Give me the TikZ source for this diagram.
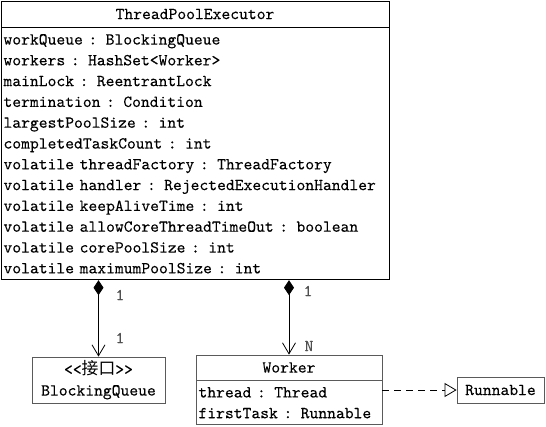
\documentclass[tikz,border=0pt]{standalone}
\usepackage{fontspec}
\newfontfamily\umlfont[FakeBold=0.12]{lmmono10-regular.otf}
\newfontfamily\cjk{Noto Sans CJK SC}
\usepackage{tikz}
\usetikzlibrary{positioning}
\usetikzlibrary{arrows.meta}
\definecolor{umlgray}{RGB}{90,90,90}
\definecolor{lblgray}{RGB}{80,80,80}
\begin{document}
\begin{tikzpicture}[x=1pt,y=-1pt]
\tikzstyle{uml}=[rectangle,draw,line width=0.8pt,inner sep=0pt,font=\umlfont\fontsize{16.8}{20.8}\selectfont]
\tikzstyle{cls}=[uml,align=center]
\tikzstyle{attrs}=[uml,align=left,inner xsep=2.5pt]
\tikzstyle{lbl}=[font=\umlfont\fontsize{16.8}{20.8}\selectfont,text=lblgray,inner sep=0pt]
\tikzstyle{comp}=[line width=0.8pt,{Diamond[length=15pt,width=10pt]}-{Straight Barb[length=11pt,width=13pt]}]
\tikzstyle{real}=[line width=0.8pt,dash pattern=on 7pt off 5pt,-{Triangle[open,length=12pt,width=14pt]}]
\useasboundingbox (0,0) rectangle (546,426);
% ThreadPoolExecutor
\node[cls,minimum width=388pt,minimum height=26pt] at(195, 14) (tpe) {ThreadPoolExecutor};
\node[attrs,text width=383pt,minimum height=252pt,below=0pt of tpe] (tpeattrs) {workQueue : BlockingQueue\\
                         workers : HashSet<Worker>\\
                         mainLock : ReentrantLock\\
                         termination : Condition\\
                         largestPoolSize : int\\
                         completedTaskCount : int\\
                         volatile threadFactory : ThreadFactory\\
                         volatile handler : RejectedExecutionHandler\\
                         volatile keepAliveTime : int\\
                         volatile allowCoreThreadTimeOut : boolean\\
                         volatile corePoolSize : int\\
                         volatile maximumPoolSize : int};
% BlockingQueue
\node[cls,draw=umlgray,minimum width=133pt,minimum height=46pt] at(98.5, 380) (bq) {<<{\cjk 接口}>>\\
                         BlockingQueue};
% Worker
\node[cls,draw=umlgray,minimum width=186pt,minimum height=25pt] at(289, 367.5) (wtitle) {Worker};
\node[attrs,draw=umlgray,text width=181pt,minimum height=44pt,below=0pt of wtitle] (wattrs) {thread : Thread\\
                         firstTask : Runnable};
% Runnable
\node[cls,draw=umlgray,minimum width=87pt,minimum height=26pt] at(500.5, 390) (run) {Runnable};
\draw[comp] (bq.north |- tpeattrs.south) -- (bq.north);
\draw[comp] (wtitle.north |- tpeattrs.south) -- (wtitle.north);
\draw[real] (wattrs.east |- run.west) -- (run.west);
\node[lbl] at(120, 295) (bqone) {1};
\node[lbl] at(120, 338) (bqtwo) {1};
\node[lbl] at(308, 291) (wone) {1};
\node[lbl] at(309, 346) (wn) {N};
\end{tikzpicture}
\end{document}
